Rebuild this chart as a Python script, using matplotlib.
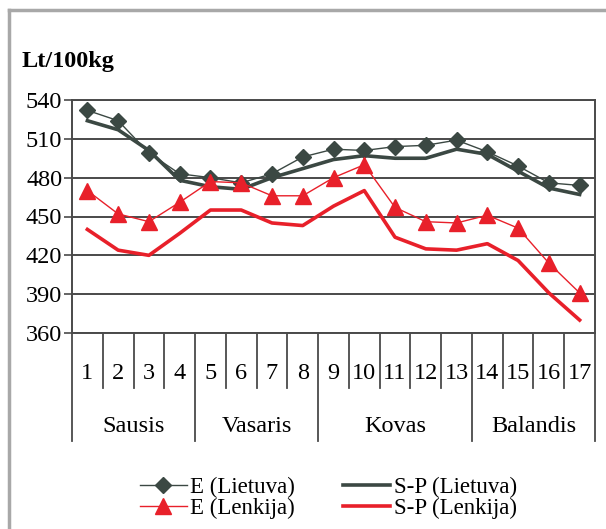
import matplotlib
matplotlib.use('Agg')
import matplotlib.pyplot as plt
from matplotlib.lines import Line2D

savaites = list(range(1, 18))
e_lietuva = [532, 524, 499, 483, 480, 476, 483, 496, 502, 501, 504, 505, 509, 500, 489, 476, 474]
sp_lietuva = [524, 517, 501, 478, 473, 471, 480, 487, 494, 497, 495, 495, 502, 498, 485, 472, 467]
e_lenkija = [470, 452, 446, 461, 477, 476, 466, 466, 480, 490, 457, 446, 445, 451, 441, 414, 391]
sp_lenkija = [440, 424, 420, 437, 455, 455, 445, 443, 458, 470, 434, 425, 424, 429, 416, 391, 370]
menesiai = ['Sausis', 'Vasaris', 'Kovas', 'Balandis']
menesiu_ribos = [0, 4, 8, 13, 17]  # savaiciu skaicius iki menesio pabaigos
y_ticks = [360, 390, 420, 450, 480, 510, 540]

plt.rcParams['font.family'] = ['Liberation Serif', 'DejaVu Serif']
tamsi = '#3b4843'
raudona = '#e8202a'
tinklas = '#4a4a4a'

fig = plt.figure(figsize=(6.06, 5.29), dpi=100)
ax = fig.add_axes([72 / 606, 1 - 333 / 529, 523 / 606, 233 / 529])

ax.plot(savaites, sp_lietuva, color=tamsi, lw=2.6, solid_joinstyle='round', zorder=3)
ax.plot(savaites, sp_lenkija, color=raudona, lw=2.6, solid_joinstyle='round', zorder=3)
ax.plot(savaites, e_lietuva, color=tamsi, lw=1.0, marker='D', ms=8, zorder=4)
ax.plot(savaites, e_lenkija, color=raudona, lw=1.0, marker='^', ms=11, zorder=4)

ax.set_xlim(0.5, 17.5)
ax.set_ylim(360, 540)
ax.set_yticks(y_ticks)
ax.set_xticks([])
ax.grid(axis='y', color=tinklas, lw=1.4)
ax.set_axisbelow(True)
ax.tick_params(axis='y', length=6, width=1.2, color=tinklas, labelsize=17.5, pad=1)
for s in ax.spines.values():
    s.set_color(tinklas)
    s.set_linewidth(1.4)

# savaiciu ir menesiu lentele po asimi
tr = ax.get_xaxis_transform()
for i in range(18):
    x = i + 0.5
    apacia = -0.4635 if i in menesiu_ribos else -0.236
    ax.plot([x, x], [0, apacia], color=tinklas, lw=1.3, transform=tr, clip_on=False)
for s in savaites:
    ax.text(s, -0.172, str(s), transform=tr, ha='center', va='center', fontsize=17.5)
for k, m in enumerate(menesiai):
    centras = (menesiu_ribos[k] + menesiu_ribos[k + 1]) / 2 + 0.5
    ax.text(centras, -0.403, m, transform=tr, ha='center', va='center', fontsize=17.5)

fig.text(22 / 606, 1 - 62 / 529, 'Lt/100kg', fontsize=17.5, fontweight='bold', va='center', ha='left')

# pilkas remelis
fig.add_artist(Line2D([9 / 606, 1], [1 - 10 / 529, 1 - 10 / 529], color='#a8a8a8', lw=2.5))
fig.add_artist(Line2D([9 / 606, 9 / 606], [0, 1 - 10 / 529], color='#a8a8a8', lw=2.5))

rankenos = [
    Line2D([], [], color=tamsi, lw=1.0, marker='D', ms=8),
    Line2D([], [], color=raudona, lw=1.0, marker='^', ms=11),
    Line2D([], [], color=tamsi, lw=2.6),
    Line2D([], [], color=raudona, lw=2.6),
]
pavad = ['E (Lietuva)', 'E (Lenkija)', 'S-P (Lietuva)', 'S-P (Lenkija)']
fig.legend(rankenos, pavad, ncol=2, loc='center', bbox_to_anchor=(0.542, 1 - 498 / 529),
           frameon=False, fontsize=16.5, handlelength=2.05, handletextpad=0.15,
           columnspacing=2.1, labelspacing=0.0, borderpad=0)

fig.savefig('out.png', dpi=100)
